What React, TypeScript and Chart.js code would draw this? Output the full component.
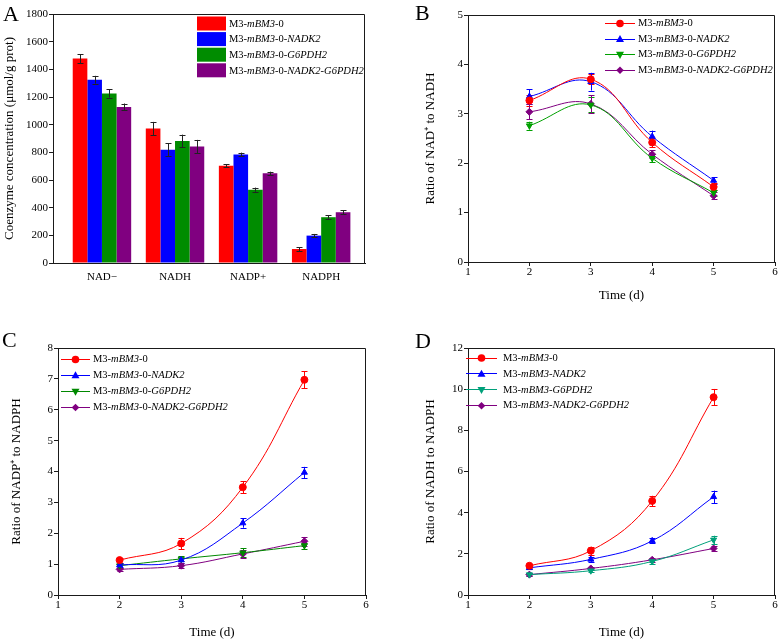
import React, { useEffect, useRef } from 'react';
import { Chart, registerables } from 'chart.js';

Chart.register(...registerables);

const FONT = '"Liberation Serif", "Times New Roman", serif';
const AXIS = '#1a1a1a';

// ---------- Panel A data ----------
const categoriesA = ['NAD−', 'NADH', 'NADP+', 'NADPH'];
const barM3 = [1478, 972, 703, 101];
const barNADK2 = [1325, 818, 784, 198];
const barG6PDH2 = [1226, 882, 530, 331];
const barBoth = [1128, 842, 648, 367];
const errBarM3 = [32, 48, 12, 14];
const errBarNADK2 = [28, 48, 14, 12];
const errBarG6PDH2 = [30, 46, 15, 16];
const errBarBoth = [25, 48, 12, 14];
const yTicksA = { min: 0, max: 1800, step: 200 };

// ---------- time axis ----------
const days = [2, 3, 4, 5];

// ---------- Panel B: NAD+/NADH ----------
const ratioB_M3 = [3.27, 3.7, 2.42, 1.52];
const ratioB_NADK2 = [3.35, 3.65, 2.54, 1.65];
const ratioB_G6PDH2 = [2.76, 3.18, 2.1, 1.4];
const ratioB_Both = [3.04, 3.2, 2.18, 1.34];
const errB_M3 = [0.12, 0.1, 0.1, 0.07];
const errB_NADK2 = [0.15, 0.18, 0.12, 0.07];
const errB_G6PDH2 = [0.08, 0.15, 0.08, 0.06];
const errB_Both = [0.15, 0.18, 0.08, 0.07];

// ---------- Panel C: NADP+/NADPH ----------
const ratioC_M3 = [1.13, 1.67, 3.49, 6.97];
const ratioC_NADK2 = [0.97, 1.13, 2.33, 3.97];
const ratioC_G6PDH2 = [0.95, 1.17, 1.37, 1.6];
const ratioC_Both = [0.83, 0.95, 1.33, 1.74];
const errC_M3 = [0.08, 0.18, 0.2, 0.28];
const errC_NADK2 = [0.06, 0.08, 0.15, 0.18];
const errC_G6PDH2 = [0.06, 0.08, 0.15, 0.1];
const errC_Both = [0.06, 0.08, 0.12, 0.14];

// ---------- Panel D: NADH/NADPH ----------
const ratioD_M3 = [1.42, 2.15, 4.57, 9.61];
const ratioD_NADK2 = [1.32, 1.73, 2.63, 4.77];
const ratioD_G6PDH2 = [0.99, 1.18, 1.63, 2.68];
const ratioD_Both = [0.99, 1.29, 1.71, 2.26];
const errD_M3 = [0.1, 0.2, 0.25, 0.4];
const errD_NADK2 = [0.08, 0.12, 0.12, 0.3];
const errD_G6PDH2 = [0.06, 0.08, 0.1, 0.2];
const errD_Both = [0.06, 0.08, 0.1, 0.12];

// legend labels ("_" toggles italic)
const labels0 = ['M3-_mBM3_-0', 'M3-_mBM3_-0-_NADK2_', 'M3-_mBM3_-0-_G6PDH2_', 'M3-_mBM3_-0-_NADK2-G6PDH2_'];
const labelsD = ['M3-_mBM3_-0', 'M3-_mBM3_-_NADK2_', 'M3-_mBM3_-_G6PDH2_', 'M3-_mBM3_-_NADK2-G6PDH2_'];

const RED = '#ff0000';
const BLUE = '#0000ff';
const GREEN_A = '#008c00';
const GREEN_B = '#00a000';
const GREEN_C = '#008800';
const GREEN_D = '#00a07a';
const PURPLE = '#800080';

const MARKER_R = 3.5;

type LegendItem = { label: string; color: string; style?: string; rotation?: number };

function drawRich(ctx: CanvasRenderingContext2D, text: string, x: number, y: number, size: number) {
  const parts = text.split('_');
  let cx = x;
  parts.forEach((p, i) => {
    ctx.font = `${i % 2 ? 'italic ' : ''}${size}px ${FONT}`;
    ctx.fillText(p, cx, y);
    cx += ctx.measureText(p).width;
  });
}

function drawMarker(ctx: CanvasRenderingContext2D, style: string, x: number, y: number, r: number, rotation = 0) {
  ctx.beginPath();
  if (style === 'circle') {
    ctx.arc(x, y, r, 0, Math.PI * 2);
  } else if (style === 'triangle') {
    const s = rotation === 180 ? -1 : 1;
    ctx.moveTo(x, y - s * r * 1.1);
    ctx.lineTo(x + r * 1.05, y + s * r * 0.75);
    ctx.lineTo(x - r * 1.05, y + s * r * 0.75);
    ctx.closePath();
  } else {
    ctx.moveTo(x, y - r);
    ctx.lineTo(x + r, y);
    ctx.lineTo(x, y + r);
    ctx.lineTo(x - r, y);
    ctx.closePath();
  }
  ctx.fill();
}

function legendPlugin(o: {
  mode: 'box' | 'line';
  x1: number;
  x2: number;
  textX: number;
  y0: number;
  dy: number;
  boxH?: number;
  size: number;
  items: LegendItem[];
}) {
  return {
    id: 'richLegend',
    afterDraw(chart: any) {
      const ctx: CanvasRenderingContext2D = chart.ctx;
      ctx.save();
      o.items.forEach((it, i) => {
        const y = o.y0 + i * o.dy;
        if (o.mode === 'box') {
          const h = o.boxH || 14;
          ctx.fillStyle = it.color;
          ctx.fillRect(o.x1, y - h / 2, o.x2 - o.x1, h);
        } else {
          ctx.strokeStyle = it.color;
          ctx.lineWidth = 1;
          ctx.beginPath();
          ctx.moveTo(o.x1, Math.round(y) + 0.5);
          ctx.lineTo(o.x2, Math.round(y) + 0.5);
          ctx.stroke();
          ctx.fillStyle = it.color;
          drawMarker(ctx, it.style || 'circle', (o.x1 + o.x2) / 2, y + 0.5, MARKER_R + 0.3, it.rotation || 0);
        }
        ctx.fillStyle = '#000';
        ctx.textBaseline = 'middle';
        ctx.textAlign = 'left';
        drawRich(ctx, it.label, o.textX, y + 0.5, o.size);
      });
      ctx.restore();
    },
  };
}

function framePlugin(letter: string, lx: number, ly: number) {
  return {
    id: 'frame',
    afterDraw(chart: any) {
      const { ctx, chartArea: a } = chart;
      ctx.save();
      ctx.strokeStyle = AXIS;
      ctx.lineWidth = 1;
      ctx.beginPath();
      const t = Math.round(a.top) + 0.5;
      const r = Math.round(a.right) - 0.5;
      ctx.moveTo(Math.round(a.left), t);
      ctx.lineTo(r, t);
      ctx.lineTo(r, Math.round(a.bottom));
      ctx.stroke();
      ctx.fillStyle = '#000';
      ctx.font = `22px ${FONT}`;
      ctx.textBaseline = 'alphabetic';
      ctx.textAlign = 'left';
      ctx.fillText(letter, lx, ly);
      ctx.restore();
    },
  };
}

function errorBarPlugin(cap: number, colored: boolean, before: boolean) {
  const draw = (chart: any) => {
    const ctx: CanvasRenderingContext2D = chart.ctx;
    const yScale = chart.scales.y;
    ctx.save();
    ctx.lineWidth = 1;
    chart.data.datasets.forEach((ds: any, di: number) => {
      const meta = chart.getDatasetMeta(di);
      const errs: number[] = ds.errors || [];
      ctx.strokeStyle = colored ? ds.borderColor : '#222';
      meta.data.forEach((el: any, j: number) => {
        const raw = ds.data[j];
        const v = typeof raw === 'number' ? raw : raw.y;
        const e = errs[j] || 0;
        const x = Math.round(el.x) + 0.5;
        const yt = yScale.getPixelForValue(v + e);
        const yb = yScale.getPixelForValue(v - e);
        ctx.beginPath();
        ctx.moveTo(x, yt);
        ctx.lineTo(x, yb);
        ctx.moveTo(x - cap, Math.round(yt) + 0.5);
        ctx.lineTo(x + cap, Math.round(yt) + 0.5);
        ctx.moveTo(x - cap, Math.round(yb) + 0.5);
        ctx.lineTo(x + cap, Math.round(yb) + 0.5);
        ctx.stroke();
      });
    });
    ctx.restore();
  };
  return before
    ? { id: 'errorBars', beforeDatasetsDraw: draw }
    : { id: 'errorBars', afterDatasetsDraw: draw };
}

const tickFont = { family: FONT, size: 11 };
const titleFont = { family: FONT, size: 13 };

function yAxis(max: number, step: number, title: string, width: number, titlePad: number) {
  return {
    type: 'linear',
    min: 0,
    max,
    ticks: { stepSize: step, color: '#000', font: tickFont, padding: 1, callback: (v: number) => String(v) },
    grid: { drawOnChartArea: false, drawTicks: true, tickLength: 4, color: AXIS },
    border: { color: AXIS, width: 1 },
    title: { display: true, text: title, color: '#000', font: titleFont, padding: { top: titlePad, bottom: 0 } },
    afterFit: (s: any) => {
      s.width = width;
    },
  };
}

function timeAxis(height: number, titlePadBottom: number) {
  return {
    type: 'linear',
    min: 1,
    max: 6,
    ticks: { stepSize: 1, color: '#000', font: tickFont, padding: 0, callback: (v: number) => String(v) },
    grid: { drawOnChartArea: false, drawTicks: true, tickLength: 4, color: AXIS },
    border: { color: AXIS, width: 1 },
    title: {
      display: true,
      text: 'Time (d)',
      color: '#000',
      font: titleFont,
      padding: { top: 0, bottom: titlePadBottom },
    },
    afterFit: (s: any) => {
      s.height = height;
    },
  };
}

function pts(vals: number[]) {
  return days.map((d, i) => ({ x: d, y: vals[i] }));
}

function lineDs(vals: number[], errs: number[], color: string, style: string, rotation = 0) {
  return {
    data: pts(vals),
    errors: errs,
    borderColor: color,
    backgroundColor: color,
    borderWidth: 1,
    pointStyle: style,
    pointRotation: rotation,
    pointRadius: MARKER_R,
    pointBorderWidth: 1,
    tension: 0.4,
    fill: false,
  };
}

function configA(): any {
  const mk = (vals: number[], errs: number[], color: string) => ({
    data: vals.map((v, i) => ({ x: i + 1, y: v })),
    errors: errs,
    backgroundColor: color,
    borderColor: color,
    borderWidth: 0,
    barPercentage: 1,
    categoryPercentage: 0.8,
  });
  return {
    type: 'bar',
    data: {
      datasets: [
        mk(barM3, errBarM3, RED),
        mk(barNADK2, errBarNADK2, BLUE),
        mk(barG6PDH2, errBarG6PDH2, GREEN_A),
        mk(barBoth, errBarBoth, PURPLE),
      ],
    },
    options: {
      animation: false,
      responsive: false,
      layout: { padding: { left: 0, right: 25, top: 14, bottom: 0 } },
      plugins: { legend: { display: false }, tooltip: { enabled: false } },
      scales: {
        x: {
          type: 'linear',
          offset: false,
          min: 0.33,
          max: 4.6,
          afterBuildTicks: (s: any) => {
            s.ticks = categoriesA.map((_, i) => ({ value: i + 1 }));
          },
          ticks: {
            color: '#000',
            font: tickFont,
            padding: 8,
            autoSkip: false,
            maxRotation: 0,
            callback: (v: number) => categoriesA[v - 1] ?? '',
          },
          grid: { drawOnChartArea: false, drawTicks: false, color: AXIS },
          border: { color: AXIS, width: 1 },
          afterFit: (s: any) => {
            s.height = 58;
          },
        },
        y: {
          ...yAxis(yTicksA.max, yTicksA.step, 'Coenzyme concentration (μmol/g prot)', 53, 2),
          min: yTicksA.min,
        },
      },
    },
    plugins: [
      errorBarPlugin(3, false, false),
      framePlugin('A', 3, 21),
      legendPlugin({
        mode: 'box',
        x1: 197,
        x2: 226,
        textX: 229,
        y0: 23.5,
        dy: 15.6,
        boxH: 14,
        size: 10.5,
        items: [
          { label: labels0[0], color: RED },
          { label: labels0[1], color: BLUE },
          { label: labels0[2], color: GREEN_A },
          { label: labels0[3], color: PURPLE },
        ],
      }),
    ],
  };
}

function lineConfig(p: {
  sets: [number[], number[]][];
  green: string;
  yMax: number;
  yStep: number;
  yTitle: string;
  yWidth: number;
  yTitlePad: number;
  rightPad: number;
  topPad: number;
  xHeight: number;
  xTitlePad: number;
  letter: string;
  lx: number;
  ly: number;
  legend: { x1: number; x2: number; textX: number; y0: number; dy: number };
  labels: string[];
}): any {
  const colors = [RED, BLUE, p.green, PURPLE];
  const styles: [string, number][] = [
    ['circle', 0],
    ['triangle', 0],
    ['triangle', 180],
    ['rectRot', 0],
  ];
  return {
    type: 'line',
    data: {
      datasets: p.sets.map(([v, e], i) => lineDs(v, e, colors[i], styles[i][0], styles[i][1])),
    },
    options: {
      animation: false,
      responsive: false,
      layout: { padding: { left: 0, right: p.rightPad, top: p.topPad, bottom: 0 } },
      plugins: { legend: { display: false }, tooltip: { enabled: false } },
      scales: {
        x: timeAxis(p.xHeight, p.xTitlePad),
        y: yAxis(p.yMax, p.yStep, p.yTitle, p.yWidth, p.yTitlePad),
      },
    },
    plugins: [
      errorBarPlugin(3, true, true),
      framePlugin(p.letter, p.lx, p.ly),
      legendPlugin({
        mode: 'line',
        ...p.legend,
        size: 10.5,
        items: p.labels.map((l, i) => ({ label: l, color: colors[i], style: styles[i][0], rotation: styles[i][1] })),
      }),
    ],
  };
}

function configB() {
  return lineConfig({
    sets: [
      [ratioB_M3, errB_M3],
      [ratioB_NADK2, errB_NADK2],
      [ratioB_G6PDH2, errB_G6PDH2],
      [ratioB_Both, errB_Both],
    ],
    green: GREEN_B,
    yMax: 5,
    yStep: 1,
    yTitle: 'Ratio of NAD⁺ to NADH',
    yWidth: 78,
    yTitlePad: 33,
    rightPad: 4,
    topPad: 15,
    xHeight: 59,
    xTitlePad: 18,
    letter: 'B',
    lx: 25,
    ly: 20,
    legend: { x1: 215, x2: 245, textX: 248, y0: 23, dy: 15.6 },
    labels: labels0,
  });
}

function configC() {
  return lineConfig({
    sets: [
      [ratioC_M3, errC_M3],
      [ratioC_NADK2, errC_NADK2],
      [ratioC_G6PDH2, errC_G6PDH2],
      [ratioC_Both, errC_Both],
    ],
    green: GREEN_C,
    yMax: 8,
    yStep: 1,
    yTitle: 'Ratio of NADP⁺ to NADPH',
    yWidth: 58,
    yTitlePad: 9,
    rightPad: 24,
    topPad: 27,
    xHeight: 47,
    xTitlePad: 2,
    letter: 'C',
    lx: 2,
    ly: 26,
    legend: { x1: 61, x2: 90, textX: 93, y0: 38, dy: 16 },
    labels: labels0,
  });
}

function configD() {
  return lineConfig({
    sets: [
      [ratioD_M3, errD_M3],
      [ratioD_NADK2, errD_NADK2],
      [ratioD_G6PDH2, errD_G6PDH2],
      [ratioD_Both, errD_Both],
    ],
    green: GREEN_D,
    yMax: 12,
    yStep: 2,
    yTitle: 'Ratio of NADH to NADPH',
    yWidth: 78,
    yTitlePad: 33,
    rightPad: 4,
    topPad: 27,
    xHeight: 47,
    xTitlePad: 2,
    letter: 'D',
    lx: 25,
    ly: 27,
    legend: { x1: 76, x2: 107, textX: 113, y0: 36.5, dy: 15.9 },
    labels: labelsD,
  });
}

function Panel({ left, top, make }: { left: number; top: number; make: () => any }) {
  const ref = useRef<HTMLCanvasElement | null>(null);
  useEffect(() => {
    if (!ref.current) return;
    const chart = new Chart(ref.current, make());
    return () => chart.destroy();
  }, [make]);
  return (
    <div style={{ position: 'absolute', left, top, width: 390, height: 321 }}>
      <canvas ref={ref} width={390} height={321} style={{ display: 'block', width: 390, height: 321 }} />
    </div>
  );
}

export default function App() {
  return (
    <div style={{ position: 'absolute', left: 0, top: 0, width: 780, height: 642, background: '#fff', overflow: 'hidden' }}>
      <Panel left={0} top={0} make={configA} />
      <Panel left={390} top={0} make={configB} />
      <Panel left={0} top={321} make={configC} />
      <Panel left={390} top={321} make={configD} />
    </div>
  );
}
